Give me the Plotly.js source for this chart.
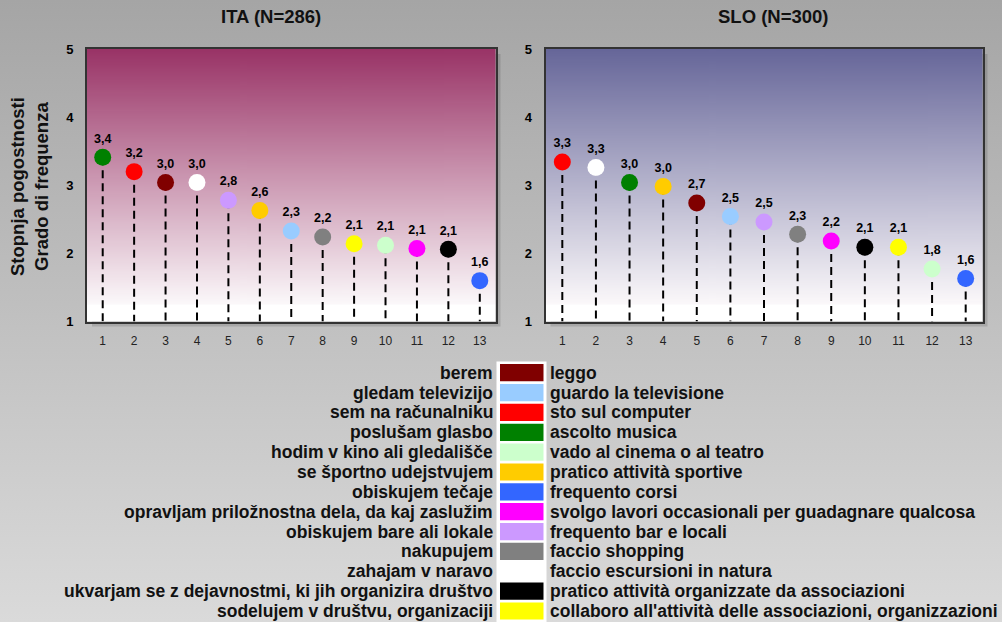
<!DOCTYPE html>
<html>
<head>
<meta charset="utf-8">
<script src="https://cdn.plot.ly/plotly-3.0.1.min.js"></script>
<style>
  html, body { margin: 0; padding: 0; }
  body { width: 1002px; height: 622px; background: linear-gradient(to bottom, #a5a5a5 0%, #bdbdbd 45%, #dadada 100%); overflow: hidden; }
  #chart { width: 1002px; height: 622px; }
</style>
</head>
<body>
<div id="chart"></div>
<script>
// ---------- DATA ----------
const activitySlo = [
  'berem', 'gledam televizijo', 'sem na računalniku', 'poslušam glasbo',
  'hodim v kino ali gledališče', 'se športno udejstvujem', 'obiskujem tečaje',
  'opravljam priložnostna dela, da kaj zaslužim', 'obiskujem bare ali lokale',
  'nakupujem', 'zahajam v naravo', 'ukvarjam se z dejavnostmi, ki jih organizira društvo',
  'sodelujem v društvu, organizaciji'
];
const activityIta = [
  'leggo', 'guardo la televisione', 'sto sul computer', 'ascolto musica',
  'vado al cinema o al teatro', 'pratico attività sportive', 'frequento corsi',
  'svolgo lavori occasionali per guadagnare qualcosa', 'frequento bar e locali',
  'faccio shopping', 'faccio escursioni in natura', 'pratico attività organizzate da associazioni',
  "collaboro all'attività delle associazioni, organizzazioni"
];
const activityColors = [
  '#800000', '#99ccff', '#ff0000', '#008000', '#ccffcc', '#ffcc00', '#3366ff',
  '#ff00ff', '#cc99ff', '#808080', '#ffffff', '#000000', '#ffff00'
];

const ranks = [1, 2, 3, 4, 5, 6, 7, 8, 9, 10, 11, 12, 13];
const rankTickLabels = ['1','2','3','4','5','6','7','8','9','10','11','12','13'];

// ITA (N=286): activity (index into activity arrays) at each rank, and mean value
const itaTitle = 'ITA (N=286)';
const itaActivity = [3, 2, 0, 10, 8, 5, 1, 9, 12, 4, 7, 11, 6];
const itaValues   = [3.41, 3.20, 3.04, 3.04, 2.78, 2.63, 2.33, 2.24, 2.14, 2.12, 2.07, 2.06, 1.60];

// SLO (N=300)
const sloTitle = 'SLO (N=300)';
const sloActivity = [2, 10, 3, 5, 0, 1, 8, 9, 7, 11, 12, 4, 6];
const sloValues   = [3.34, 3.26, 3.04, 2.98, 2.74, 2.54, 2.46, 2.28, 2.18, 2.09, 2.09, 1.77, 1.63];

const yTickVals = [1, 2, 3, 4, 5];
const yTitle = 'Stopnja pogostnosti<br>Grado di frequenza';

// ---------- LAYOUT HELPERS ----------
const W = 1002, H = 622;
const FONT = 'Liberation Sans, Arial, sans-serif';
const px = v => v / W;
const py = v => 1 - v / H;

const xDom1 = [px(87), px(495.5)];
const xDom2 = [px(545.5), px(982.5)];
const yDom  = [py(321.5), py(49)];

function gradient(top) {
  const c = document.createElement('canvas');
  c.width = 4; c.height = 512;
  const ctx = c.getContext('2d');
  const g = ctx.createLinearGradient(0, 0, 0, 512);
  g.addColorStop(0, top);
  g.addColorStop(0.935, '#fbf8fa');
  g.addColorStop(0.94, '#ffffff');
  g.addColorStop(1, '#ffffff');
  ctx.fillStyle = g;
  ctx.fillRect(0, 0, 4, 512);
  return c.toDataURL('image/png');
}

function fmt(v) { return v.toFixed(1).replace('.', ','); }

function traces(values, acts, xa, ya) {
  const lx = [], ly = [];
  ranks.forEach((r, i) => { lx.push(r, r, null); ly.push(values[i], 1, null); });
  return [
    {
      type: 'scatter', mode: 'lines', x: lx, y: ly, xaxis: xa, yaxis: ya,
      line: { color: '#000', width: 2, dash: '8px,5px' },
      hoverinfo: 'skip', showlegend: false
    },
    {
      type: 'scatter', mode: 'markers+text', x: ranks, y: values, xaxis: xa, yaxis: ya,
      marker: { size: 17, color: acts.map(a => activityColors[a]), line: { width: 0 } },
      text: values.map(fmt), textposition: 'top center',
      textfont: { family: FONT, size: 12.5, color: '#000', weight: 'bold' },
      cliponaxis: false, showlegend: false
    }
  ];
}

const data = [
  ...traces(itaValues, itaActivity, 'x', 'y'),
  ...traces(sloValues, sloActivity, 'x2', 'y2')
];

const xAxisBase = {
  range: [0.5, 13.5], tickvals: ranks, ticktext: rankTickLabels,
  showgrid: false, zeroline: false, showline: true, mirror: true,
  linecolor: '#333', linewidth: 2, ticks: 'outside', ticklen: 7, tickcolor: 'rgba(0,0,0,0)',
  tickfont: { family: FONT, size: 12, color: '#222' }, fixedrange: true
};
const yAxisBase = {
  range: [1, 5], tickvals: yTickVals,
  showgrid: false, zeroline: false, showline: true, mirror: true,
  linecolor: '#333', linewidth: 2, ticks: 'outside', ticklen: 9, tickcolor: 'rgba(0,0,0,0)',
  tickfont: { family: FONT, size: 13, color: '#000', weight: 'bold' }, fixedrange: true
};

const shapes = [];
const annotations = [];

// plot shadows
[xDom1, xDom2].forEach(d => {
  shapes.push({ type: 'rect', xref: 'paper', yref: 'paper', layer: 'below',
    x0: d[1], x1: d[1] + px(5), y0: yDom[0] - 5 / H, y1: yDom[1] - 5 / H,
    fillcolor: 'rgba(0,0,0,0.13)', line: { width: 0 } });
  shapes.push({ type: 'rect', xref: 'paper', yref: 'paper', layer: 'below',
    x0: d[0] + px(5), x1: d[1], y0: yDom[0] - 5 / H, y1: yDom[0],
    fillcolor: 'rgba(0,0,0,0.13)', line: { width: 0 } });
});

// titles
annotations.push({ text: itaTitle, xref: 'paper', yref: 'paper', x: px(271), y: py(17),
  xanchor: 'center', yanchor: 'middle', showarrow: false,
  font: { family: FONT, size: 18.5, color: '#111', weight: 'bold' } });
annotations.push({ text: sloTitle, xref: 'paper', yref: 'paper', x: px(773), y: py(17),
  xanchor: 'center', yanchor: 'middle', showarrow: false,
  font: { family: FONT, size: 18.5, color: '#111', weight: 'bold' } });

// y-axis title
annotations.push({ text: yTitle, xref: 'paper', yref: 'paper', x: px(29), y: py(187),
  xanchor: 'center', yanchor: 'middle', showarrow: false, textangle: -90,
  font: { family: FONT, size: 18.5, color: '#111', weight: 'bold' } });

// legend
const rowTop = 372.7, rowStep = 19.86;
shapes.push({ type: 'rect', xref: 'paper', yref: 'paper', layer: 'above',
  x0: px(496.5), x1: px(546.5), y0: py(622), y1: py(361.5),
  fillcolor: '#ffffff', line: { width: 0 } });
activitySlo.forEach((name, i) => {
  const cy = rowTop + i * rowStep;
  shapes.push({ type: 'rect', xref: 'paper', yref: 'paper', layer: 'above',
    x0: px(500), x1: px(543.5), y0: py(cy + 8.6), y1: py(cy - 8.6),
    fillcolor: activityColors[i], line: { width: 0 } });
  annotations.push({ text: name, xref: 'paper', yref: 'paper', x: px(494.5), y: py(cy),
    xanchor: 'right', yanchor: 'middle', showarrow: false,
    font: { family: FONT, size: 17.5, color: '#111', weight: 'bold' } });
  annotations.push({ text: activityIta[i], xref: 'paper', yref: 'paper', x: px(548), y: py(cy),
    xanchor: 'left', yanchor: 'middle', showarrow: false,
    font: { family: FONT, size: 17.5, color: '#111', weight: 'bold' } });
});

const layout = {
  width: W, height: H,
  margin: { l: 0, r: 0, t: 0, b: 0 },
  paper_bgcolor: 'rgba(0,0,0,0)', plot_bgcolor: 'rgba(0,0,0,0)',
  showlegend: false,
  xaxis: Object.assign({}, xAxisBase, { domain: xDom1, anchor: 'y' }),
  yaxis: Object.assign({}, yAxisBase, { domain: yDom, anchor: 'x' }),
  xaxis2: Object.assign({}, xAxisBase, { domain: xDom2, anchor: 'y2' }),
  yaxis2: Object.assign({}, yAxisBase, { domain: yDom, anchor: 'x2' }),
  images: [
    { source: gradient('#993366'), xref: 'paper', yref: 'paper', x: xDom1[0], y: yDom[1],
      sizex: xDom1[1] - xDom1[0], sizey: yDom[1] - yDom[0], sizing: 'stretch',
      xanchor: 'left', yanchor: 'top', layer: 'below' },
    { source: gradient('#666699'), xref: 'paper', yref: 'paper', x: xDom2[0], y: yDom[1],
      sizex: xDom2[1] - xDom2[0], sizey: yDom[1] - yDom[0], sizing: 'stretch',
      xanchor: 'left', yanchor: 'top', layer: 'below' }
  ],
  shapes: shapes,
  annotations: annotations
};

Plotly.newPlot('chart', data, layout, { displayModeBar: false, staticPlot: true });
</script>
</body>
</html>
